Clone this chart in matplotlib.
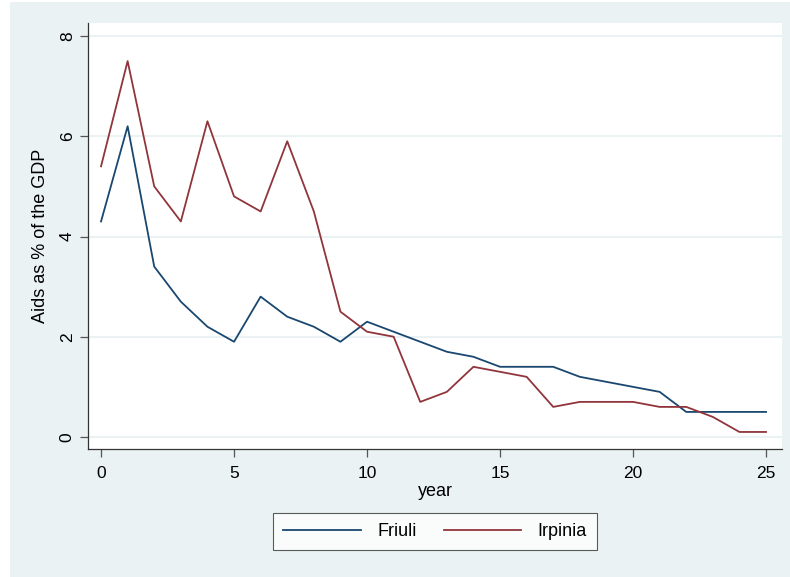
import matplotlib
matplotlib.use('Agg')
import matplotlib.pyplot as plt
from matplotlib.patches import Rectangle

years = list(range(26))
friuli = [4.3, 6.2, 3.4, 2.7, 2.2, 1.9, 2.8, 2.4, 2.2, 1.9, 2.3, 2.1, 1.9,
          1.7, 1.6, 1.4, 1.4, 1.4, 1.2, 1.1, 1.0, 0.9, 0.5, 0.5, 0.5, 0.5]
irpinia = [5.4, 7.5, 5.0, 4.3, 6.3, 4.8, 4.5, 5.9, 4.5, 2.5, 2.1, 2.0, 0.7,
           0.9, 1.4, 1.3, 1.2, 0.6, 0.7, 0.7, 0.7, 0.6, 0.6, 0.4, 0.1, 0.1]
xticks = [0, 5, 10, 15, 20, 25]
yticks = [0, 2, 4, 6, 8]

bg = '#eaf2f3'
navy = '#1a476f'
maroon = '#90353b'

plt.rcParams['font.family'] = ['Liberation Sans', 'DejaVu Sans']

W, H = 790, 577
fig = plt.figure(figsize=(W / 100, H / 100), dpi=100)
fig.patch.set_facecolor('white')
fig.patches.append(Rectangle((10 / W, 0), 1, 1 - 2 / H, transform=fig.transFigure,
                             facecolor=bg, edgecolor='none', zorder=-10))

ax = fig.add_axes([88 / W, 1 - 449 / H, (782 - 88) / W, (449 - 23) / H])
ax.set_facecolor('white')

ax.plot(years, friuli, color=navy, lw=1.3, label='Friuli')
ax.plot(years, irpinia, color=maroon, lw=1.3, label='Irpinia')

ax.set_xlim(-0.49, 25.6)
ax.set_ylim(-0.24, 8.26)
ax.set_xticks(xticks)
ax.set_yticks(yticks)
ax.grid(axis='y', color=bg, lw=1.5)
ax.set_axisbelow(True)

for s in ['top', 'right']:
    ax.spines[s].set_visible(False)
for s in ['left', 'bottom']:
    ax.spines[s].set_color('#333333')
    ax.spines[s].set_linewidth(0.9)

ax.tick_params(axis='both', direction='out', length=6, width=0.9, color='#555555',
               labelsize=12.5)
ax.tick_params(axis='x', pad=6)
plt.setp(ax.get_yticklabels(), rotation=90, va='center')

ax.set_xlabel('year', fontsize=13, labelpad=2)
ax.set_ylabel('Aids as % of the GDP', fontsize=13, labelpad=8)

leg = ax.legend(loc='upper center', bbox_to_anchor=(0.5, -0.13), ncol=2,
                frameon=True, fancybox=False, fontsize=13, handlelength=4.3,
                columnspacing=1.5, borderpad=0.55, handletextpad=0.9)
leg.get_frame().set_edgecolor('#333333')
leg.get_frame().set_linewidth(0.8)

fig.savefig('out.png', dpi=100, facecolor=fig.get_facecolor())
